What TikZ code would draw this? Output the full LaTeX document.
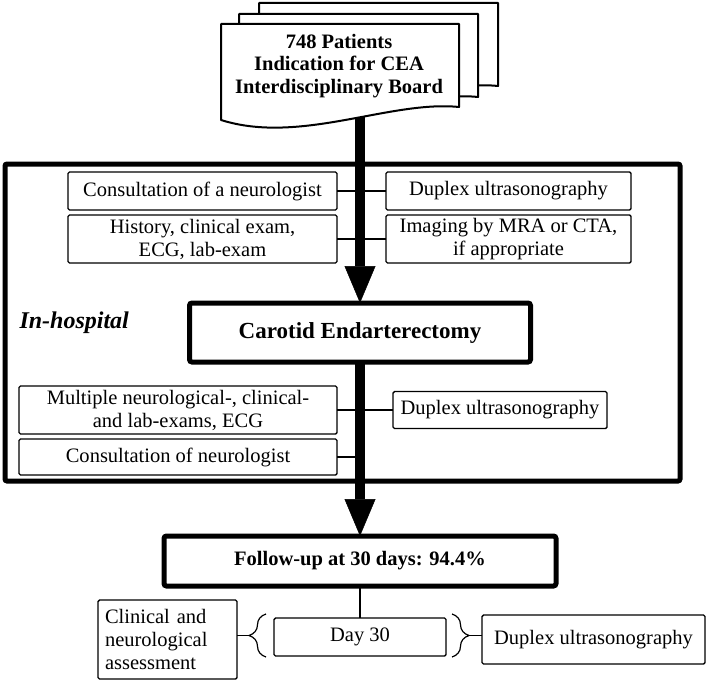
\documentclass[tikz,border=0pt]{standalone}
\usepackage{fontspec}
\setmainfont{Liberation Serif}
\usetikzlibrary{arrows.meta,decorations.pathreplacing,positioning}
\tikzstyle{thinbox} = [draw=black, line width=1.4pt, rounded corners=1.5pt,
fill=white, inner sep=0pt, outer sep=0pt, align=center,
font=\fontsize{20.5}{23}\selectfont]
\tikzstyle{thickbox} = [thinbox, line width=5pt, rounded corners=2.5pt,
font=\fontsize{20.5}{23}\selectfont\bfseries]
\tikzstyle{bigarrow} = [line width=10pt,
-{Triangle[width=31pt,length=37pt,line width=0.5pt]}]
\tikzstyle{link} = [line width=1.2pt]
\tikzstyle{doc} = [draw=black, line width=2pt, fill=white, line join=round]
\tikzstyle{curly} = [line width=1.2pt, decorate,
decoration={brace, amplitude=17pt, aspect=0.5}]

\begin{document}
\begin{tikzpicture}[x=1pt, y=-1pt]
            \useasboundingbox (0,0) rectangle (708,682);
            % in-hospital frame
            \draw[line width=5pt, rounded corners=2pt] (5,164) rectangle (680,481);
            \node[anchor=west, font=\fontsize{24}{26}\selectfont\bfseries\itshape]
            (inhosp) at (16,323) {In-hospital};
            % before the operation
            \node[thinbox, minimum width=269pt, minimum height=38pt] (consultA)
            at (202.5,191) {Consultation of a neurologist};
            \node[thinbox, minimum width=269pt, minimum height=48pt,
            below=5pt of consultA] (history) {History, clinical exam,\\ECG, lab-exam};
            \node[thinbox, minimum width=245pt, minimum height=38pt] (duplexA)
            at (508.5,191) {Duplex ultrasonography};
            \node[thinbox, minimum width=245pt, minimum height=48pt,
            below=5pt of duplexA] (imaging) {Imaging by MRA or CTA,\\if appropriate};
            \node[thickbox, minimum width=341pt, minimum height=59pt,
            font=\fontsize{23}{26}\selectfont\bfseries] (cea) at (360,332.5)
            {Carotid Endarterectomy};
            % after the operation
            \node[thinbox, minimum width=318pt, minimum height=48pt] (multi)
            at (178,410) {Multiple neurological-, clinical-\\and lab-exams, ECG};
            \node[thinbox, minimum width=318pt, minimum height=36pt,
            below=5pt of multi] (consultB) {Consultation of neurologist};
            \node[thinbox, minimum width=214pt, minimum height=37pt] (duplexB)
            at (500,410) {Duplex ultrasonography};
            % follow-up
            \node[thickbox, minimum width=392pt, minimum height=50pt] (followup)
            at (360,561) {Follow-up at 30 days: 94.4\%};
            \node[thinbox, minimum width=172pt, minimum height=38pt] (day)
            at (360,637) {Day 30};
            \node[thinbox, minimum width=139pt, minimum height=79pt, align=left,
            text width=125pt] (clinical) at (167.5,639.5)
            {Clinical and\\neurological\\assessment};
            \node[thinbox, minimum width=223pt, minimum height=49pt] (duplexC)
            at (593.5,639.5) {Duplex ultrasonography};
            % connectors
            \draw[link] (consultA.east) -- (duplexA.west);
            \draw[link] (history.east) -- (imaging.west);
            \draw[link] (multi.east) -- (multi.east -| duplexB.west);
            \draw[link] (consultB.east) -- (consultB.east -| cea.south);
            \draw[link] (followup.south) -- (day.north);
            \draw[curly] (266,657) -- (266,614);
            \draw[curly] (452,614) -- (452,657);
            \coordinate (lbr) at (249,635.5);
            \coordinate (rbr) at (469,635.5);
            \draw[link] (clinical.east |- lbr) -- (lbr);
            \draw[link] (rbr) -- (rbr -| duplexC.west);
            % main arrows
            \coordinate (docbot) at (360,110);
            \draw[bigarrow] (docbot) -- (cea.north);
            \draw[bigarrow] (cea.south) -- (followup.north);
            % stacked documents
            \draw[doc] (259,3) -- (498,3) -- (498,86)
            .. controls (429,79) and (338,124) .. (259,99) -- cycle;
            \draw[doc] (239,14) -- (478,14) -- (478,97)
            .. controls (409,90) and (318,135) .. (239,110) -- cycle;
            \draw[doc] (221,24) -- (459,24) -- (459,107)
            .. controls (390,100) and (300,145) .. (221,120) -- cycle;
            \node[font=\fontsize{20.5}{22.5}\selectfont\bfseries, align=center]
            (patients) at (339,66)
            {748 Patients\\Indication for CEA\\Interdisciplinary Board};
        \end{tikzpicture}
\end{document}
